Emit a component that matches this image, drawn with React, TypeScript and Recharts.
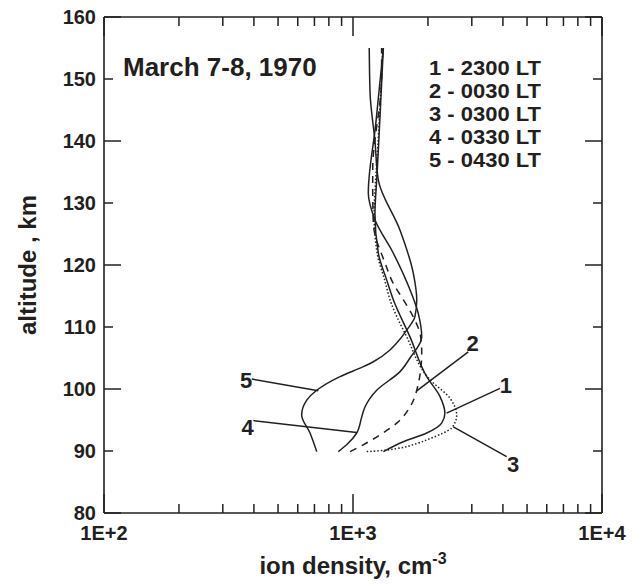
import React from 'react';
import { LineChart, Line, XAxis, YAxis, ReferenceLine, ReferenceDot } from 'recharts';

const INK = '#231f20';
const FONT = '"Liberation Sans", Arial, Helvetica, sans-serif';

// axis ticks
const xTicks = [100, 200, 300, 400, 500, 600, 700, 800, 900, 1000, 2000, 3000, 4000, 5000, 6000, 7000, 8000, 9000, 10000];
const xMajor = [100, 1000, 10000];
const xTickLabels: Record<number, string> = { 100: '1E+2', 1000: '1E+3', 10000: '1E+4' };
const yTicks = [80, 90, 100, 110, 120, 130, 140, 150, 160];
const yMajor = [80, 100, 120, 140, 160];

// series: altitude (km) and ion density (cm-3)
const alt1 = [89.9, 91.5, 92.9, 94.5, 96.1, 98.8, 102.0, 108.4, 114.4, 117.6, 121.9, 128.3, 133.7, 138.5, 155];
const dens1 = [1324, 1592, 1977, 2270, 2339, 2234, 1977, 1694, 1452, 1365, 1264, 1225, 1245, 1264, 1324];

const alt2 = [89.9, 91.0, 92.6, 94.5, 97.1, 99.8, 105.8, 108.4, 111.7, 114.4, 117.0, 120.3, 126.7, 132.1, 135.3, 150.4, 155];
const dens2 = [973, 1100, 1283, 1499, 1694, 1803, 1888, 1870, 1742, 1592, 1452, 1345, 1207, 1200, 1200, 1303, 1303];

const alt3 = [89.9, 90.05, 90.4, 91.2, 92.0, 92.9, 93.7, 95.8, 98.5, 101.5, 108.4, 114.4, 117.6, 121.9, 128.3, 133.7, 138.5, 155];
const dens3 = [1135, 1283, 1499, 1803, 2038, 2303, 2489, 2609, 2453, 2038, 1644, 1408, 1340, 1250, 1215, 1233, 1255, 1318];

const alt4 = [89.9, 91.0, 92.9, 95.5, 97.1, 99.8, 102.8, 105.0, 108.4, 112.2, 116.0, 121.9, 127.3, 131.6, 142.6, 155];
const dens4 = [873, 943, 1035, 1084, 1117, 1245, 1545, 1694, 1888, 1828, 1694, 1452, 1225, 1152, 1233, 1324];

const alt5 = [89.9, 92.9, 95.8, 98.2, 99.8, 102.0, 103.6, 104.4, 106.3, 107.4, 109.5, 111.7, 114.4, 118.7, 125.6, 133.7, 140, 147.7, 155];
const dens5 = [715, 672, 622, 652, 715, 887, 1100, 1207, 1408, 1497, 1644, 1774, 1803, 1746, 1545, 1264, 1225, 1171, 1162];

// legend / annotation text
const titleText = 'March 7-8, 1970';
const legendLines = ['1 - 2300 LT', '2 - 0030 LT', '3 - 0300 LT', '4 - 0330 LT', '5 - 0430 LT'];
const curveLabels = ['5', '4', '2', '1', '3'];
const labelDens = [372, 377, 3020, 4115, 4395];
const labelAlt = [101.5, 93.8, 107.4, 100.7, 87.9];
const leaderFromDens = [392, 398, 2904, 3892, 4140];
const leaderFromAlt = [101.6, 94.9, 106.0, 100.1, 89.1];
const leaderToDens = [726, 1035, 1803, 2377, 2529];
const leaderToAlt = [99.7, 93.0, 99.7, 96.1, 93.9];

const rows = (alt: number[], dens: number[]) => alt.map((a, i) => ({ alt: a, n: dens[i] }));

const series = [
  { key: 's1', data: rows(alt1, dens1), dash: undefined as string | undefined },
  { key: 's2', data: rows(alt2, dens2), dash: '7 6' },
  { key: 's3', data: rows(alt3, dens3), dash: '1.5 2' },
  { key: 's4', data: rows(alt4, dens4), dash: undefined },
  { key: 's5', data: rows(alt5, dens5), dash: undefined },
];

const tickFont = { fontFamily: FONT, fontWeight: 700, fontSize: 20, fill: INK };

const BottomTick = (props: any) => {
  const { x, y, payload } = props;
  const v = payload.value;
  const len = xMajor.includes(v) ? 19 : 9;
  return (
    <g>
      <line x1={x} x2={x} y1={y} y2={y - len} stroke={INK} strokeWidth={1.5} />
      {xTickLabels[v] ? (
        <text x={x} y={y + 27} textAnchor="middle" {...tickFont}>{xTickLabels[v]}</text>
      ) : null}
    </g>
  );
};

const TopTick = (props: any) => {
  const { x, y, payload } = props;
  const v = payload.value;
  const len = xMajor.includes(v) ? 19 : 9;
  return <line x1={x} x2={x} y1={y} y2={y + len} stroke={INK} strokeWidth={1.5} />;
};

const LeftTick = (props: any) => {
  const { x, y, payload } = props;
  const v = payload.value;
  const len = yMajor.includes(v) ? 17 : 9;
  return (
    <g>
      <line x1={x} x2={x + len} y1={y} y2={y} stroke={INK} strokeWidth={1.5} />
      <text x={x - 8} y={y + 7} textAnchor="end" {...tickFont}>{v}</text>
    </g>
  );
};

const RightTick = (props: any) => {
  const { x, y, payload } = props;
  const v = payload.value;
  const len = yMajor.includes(v) ? 17 : 9;
  return <line x1={x} x2={x - len} y1={y} y2={y} stroke={INK} strokeWidth={1.5} />;
};

const axisLine = { stroke: INK, strokeWidth: 1.6 };

export default function App() {
  return (
    <div style={{ position: 'absolute', left: 0, top: 0, width: 640, height: 584, background: '#fff' }}>
      <LineChart width={640} height={584} margin={{ top: 7, right: 28, bottom: 31, left: 44 }}>
        <XAxis
          xAxisId="bottom"
          type="number"
          dataKey="n"
          scale="log"
          domain={[100, 10000]}
          allowDataOverflow
          ticks={xTicks}
          interval={0}
          tickSize={0}
          tickMargin={0}
          tickLine={false}
          tick={<BottomTick />}
          axisLine={axisLine}
          height={40}
          orientation="bottom"
        />
        <XAxis
          xAxisId="top"
          type="number"
          dataKey="n"
          scale="log"
          domain={[100, 10000]}
          allowDataOverflow
          ticks={xTicks}
          interval={0}
          tickSize={0}
          tickMargin={0}
          tickLine={false}
          tick={<TopTick />}
          axisLine={axisLine}
          height={10}
          orientation="top"
        />
        <YAxis
          yAxisId="left"
          type="number"
          dataKey="alt"
          domain={[80, 160]}
          allowDataOverflow
          ticks={yTicks}
          interval={0}
          tickSize={0}
          tickMargin={0}
          tickLine={false}
          tick={<LeftTick />}
          axisLine={axisLine}
          width={60}
          orientation="left"
        />
        <YAxis
          yAxisId="right"
          type="number"
          dataKey="alt"
          domain={[80, 160]}
          allowDataOverflow
          ticks={yTicks}
          interval={0}
          tickSize={0}
          tickMargin={0}
          tickLine={false}
          tick={<RightTick />}
          axisLine={axisLine}
          width={10}
          orientation="right"
        />
        {series.map((s) => (
          <Line
            key={s.key}
            xAxisId="bottom"
            yAxisId="left"
            data={s.data}
            dataKey="alt"
            type="monotoneY"
            stroke={INK}
            strokeWidth={1.5}
            strokeDasharray={s.dash}
            dot={false}
            activeDot={false}
            isAnimationActive={false}
          />
        ))}
        {curveLabels.map((lab, i) => (
          <ReferenceLine
            key={'ld' + lab}
            xAxisId="bottom"
            yAxisId="left"
            segment={[
              { x: leaderFromDens[i], y: leaderFromAlt[i] },
              { x: leaderToDens[i], y: leaderToAlt[i] },
            ]}
            stroke={INK}
            strokeWidth={1.5}
          />
        ))}
        {curveLabels.map((lab, i) => (
          <ReferenceDot
            key={'lb' + lab}
            xAxisId="bottom"
            yAxisId="left"
            x={labelDens[i]}
            y={labelAlt[i]}
            r={0}
            shape={(p: any) => (
              <text
                x={p.cx}
                y={p.cy + 8}
                textAnchor="middle"
                fontFamily={FONT}
                fontWeight={700}
                fontSize={22}
                fill={INK}
              >
                {lab}
              </text>
            )}
          />
        ))}
      </LineChart>
      <svg width={640} height={584} style={{ position: 'absolute', left: 0, top: 0, pointerEvents: 'none' }}>
        <g fontFamily={FONT} fontWeight={700} fill={INK}>
          <text x={123} y={76} fontSize={26}>{titleText}</text>
          {legendLines.map((t, i) => (
            <text key={t} x={429} y={75 + 23 * i} fontSize={20.5} textLength={112} lengthAdjust="spacingAndGlyphs">{t}</text>
          ))}
          <text x={353} y={574} fontSize={24} textAnchor="middle">
            ion density, cm<tspan dy={-10} fontSize={16}>-3</tspan>
          </text>
          <text x={0} y={0} fontSize={24} textAnchor="middle" transform="translate(36,265) rotate(-90)">
            altitude , km
          </text>
        </g>
      </svg>
    </div>
  );
}
